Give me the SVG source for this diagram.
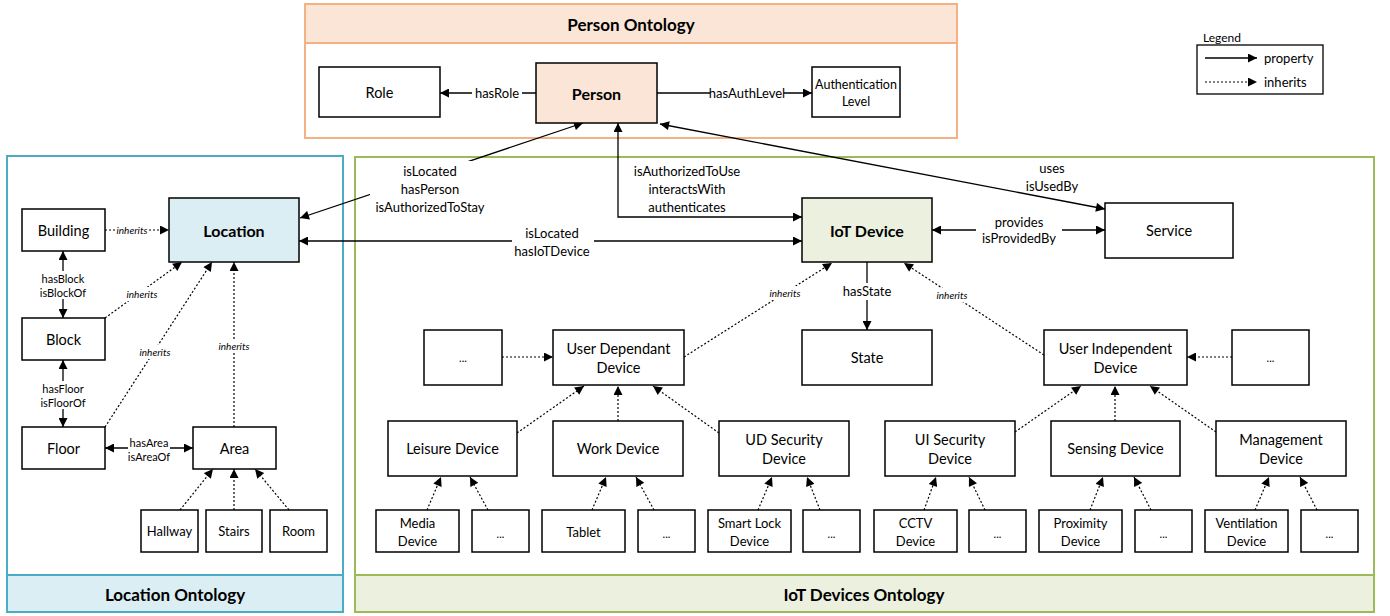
<svg xmlns="http://www.w3.org/2000/svg" width="1390" height="616" viewBox="0 0 1390 616">
<style>
text{font-family:Lato,"Liberation Sans",sans-serif;fill:#000;text-anchor:middle;dominant-baseline:central}
.n{fill:#fff;stroke:#000;stroke-width:1.5}
.t{font-size:14.5px}
.b{font-weight:bold;font-size:16px}
.h{font-weight:bold;font-size:17px}
.s{font-size:13px}
.xs{font-size:11px}
.i{font-style:italic;font-size:10px}
.p{fill:none;stroke:#000;stroke-width:1.3}
.d{fill:none;stroke:#000;stroke-width:1.2;stroke-dasharray:2 2}
.bg{fill:#fff}
</style>
<defs>
<marker id="a" viewBox="0 0 10 10" refX="10" refY="5" markerWidth="11" markerHeight="9" markerUnits="userSpaceOnUse" orient="auto-start-reverse"><path d="M0,0 L10,5 L0,10 z" fill="#000"/></marker>
</defs>
<rect width="1390" height="616" fill="#fff"/>
<g id="person-ontology">
<rect x="305" y="4" width="652" height="134" fill="#fff" stroke="#F4B183" stroke-width="2"/>
<rect x="305" y="4" width="652" height="39" fill="#FBE5D6" stroke="#F4B183" stroke-width="2"/>
<text x="631" y="24" class="h">Person Ontology</text>
</g>
<g id="location-ontology">
<rect x="7" y="156" width="336" height="456" fill="#fff" stroke="#4BACC6" stroke-width="2"/>
<rect x="7" y="575" width="336" height="37" fill="#DAEEF3" stroke="#4BACC6" stroke-width="2"/>
<text x="175" y="594" class="h">Location Ontology</text>
</g>
<g id="iot-ontology">
<rect x="355" y="157" width="1019" height="455" fill="#fff" stroke="#9BBB59" stroke-width="2"/>
<rect x="355" y="575" width="1019" height="37" fill="#EBF1DE" stroke="#9BBB59" stroke-width="2"/>
<text x="864" y="594" class="h">IoT Devices Ontology</text>
</g>
<g id="legend">
<text x="1203" y="37" style="text-anchor:start;font-size:12px">Legend</text>
<rect x="1197" y="45" width="126" height="49" fill="#fff" stroke="#000" stroke-width="1.3"/>
<line x1="1205" y1="58" x2="1257" y2="58" class="p" marker-end="url(#a)"/>
<text x="1264" y="58" class="s" style="text-anchor:start">property</text>
<line x1="1205" y1="82" x2="1257" y2="82" class="d" marker-end="url(#a)"/>
<text x="1264" y="82" class="s" style="text-anchor:start">inherits</text>
</g>
<g id="connectors">
<line x1="536" y1="93" x2="440" y2="93" class="p" marker-end="url(#a)"/>
<rect x="472" y="85" width="50" height="16" class="bg"/><text x="497" y="93" class="s">hasRole</text>
<line x1="657" y1="93" x2="812" y2="93" class="p" marker-end="url(#a)"/>
<rect x="710" y="85" width="74" height="16" class="bg"/><text x="747" y="93" class="s">hasAuthLevel</text>
<line x1="583" y1="123" x2="300" y2="218" class="p" marker-start="url(#a)" marker-end="url(#a)"/>
<rect x="370" y="161" width="120" height="56" class="bg"/>
<text x="430" y="171" class="s">isLocated</text><text x="430" y="189" class="s">hasPerson</text><text x="430" y="207" class="s">isAuthorizedToStay</text>
<path d="M618,123 V217 H802" class="p" marker-start="url(#a)" marker-end="url(#a)"/>
<text x="687" y="171" class="s">isAuthorizedToUse</text><text x="687" y="189" class="s">interactsWith</text><text x="687" y="207" class="s">authenticates</text>
<line x1="299" y1="241" x2="802" y2="241" class="p" marker-start="url(#a)" marker-end="url(#a)"/>
<rect x="512" y="225" width="82" height="34" class="bg"/>
<text x="552" y="233" class="s">isLocated</text><text x="552" y="251" class="s">hasIoTDevice</text>
<line x1="660" y1="124" x2="1105" y2="209" class="p" marker-start="url(#a)" marker-end="url(#a)"/>
<text x="1052" y="168" class="s">uses</text><text x="1052" y="186" class="s">isUsedBy</text>
<line x1="932" y1="230" x2="1105" y2="230" class="p" marker-start="url(#a)" marker-end="url(#a)"/>
<rect x="976" y="214" width="86" height="33" class="bg"/>
<text x="1019" y="222" class="s">provides</text><text x="1019" y="238" class="s">isProvidedBy</text>
<line x1="867" y1="262" x2="867" y2="330" class="p" marker-end="url(#a)"/>
<rect x="840" y="283" width="54" height="17" class="bg"/><text x="867" y="291" class="s">hasState</text>
<line x1="684" y1="357" x2="832" y2="263" class="d" marker-end="url(#a)"/>
<rect x="770" y="286" width="30" height="14" class="bg"/><text x="785" y="293" class="i">inherits</text>
<line x1="1044" y1="355" x2="904" y2="263" class="d" marker-end="url(#a)"/>
<rect x="937" y="288" width="30" height="14" class="bg"/><text x="952" y="295" class="i">inherits</text>
<line x1="502" y1="357" x2="553" y2="357" class="d" marker-end="url(#a)"/>
<line x1="1232" y1="357" x2="1187" y2="357" class="d" marker-end="url(#a)"/>
<line x1="517" y1="433" x2="584" y2="386" class="d" marker-end="url(#a)"/>
<line x1="618" y1="421" x2="618" y2="386" class="d" marker-end="url(#a)"/>
<line x1="719" y1="433" x2="653" y2="386" class="d" marker-end="url(#a)"/>
<line x1="1015" y1="432" x2="1081" y2="386" class="d" marker-end="url(#a)"/>
<line x1="1115" y1="421" x2="1115" y2="386" class="d" marker-end="url(#a)"/>
<line x1="1216" y1="432" x2="1150" y2="386" class="d" marker-end="url(#a)"/>
<line x1="427" y1="510" x2="441" y2="477" class="d" marker-end="url(#a)"/>
<line x1="488" y1="510" x2="470" y2="477" class="d" marker-end="url(#a)"/>
<line x1="592" y1="510" x2="606" y2="477" class="d" marker-end="url(#a)"/>
<line x1="654" y1="510" x2="636" y2="477" class="d" marker-end="url(#a)"/>
<line x1="758" y1="510" x2="772" y2="477" class="d" marker-end="url(#a)"/>
<line x1="820" y1="510" x2="807" y2="477" class="d" marker-end="url(#a)"/>
<line x1="924" y1="510" x2="936" y2="477" class="d" marker-end="url(#a)"/>
<line x1="985" y1="510" x2="969" y2="477" class="d" marker-end="url(#a)"/>
<line x1="1090" y1="510" x2="1103" y2="477" class="d" marker-end="url(#a)"/>
<line x1="1151" y1="510" x2="1134" y2="477" class="d" marker-end="url(#a)"/>
<line x1="1255" y1="510" x2="1269" y2="477" class="d" marker-end="url(#a)"/>
<line x1="1317" y1="510" x2="1300" y2="477" class="d" marker-end="url(#a)"/>
<line x1="105" y1="230" x2="169" y2="230" class="d" marker-end="url(#a)"/>
<rect x="117" y="223" width="31" height="14" class="bg"/><text x="132" y="230" class="i">inherits</text>
<line x1="63" y1="251" x2="63" y2="318" class="p" marker-start="url(#a)" marker-end="url(#a)"/>
<rect x="40" y="271" width="46" height="28" class="bg"/>
<text x="63" y="278" class="xs">hasBlock</text><text x="63" y="292" class="xs">isBlockOf</text>
<line x1="63" y1="360" x2="63" y2="427" class="p" marker-start="url(#a)" marker-end="url(#a)"/>
<rect x="40" y="381" width="46" height="28" class="bg"/>
<text x="63" y="388" class="xs">hasFloor</text><text x="63" y="402" class="xs">isFloorOf</text>
<line x1="105" y1="318" x2="182" y2="262" class="d" marker-end="url(#a)"/>
<rect x="127" y="287" width="31" height="14" class="bg"/><text x="142" y="294" class="i">inherits</text>
<line x1="105" y1="427" x2="212" y2="262" class="d" marker-end="url(#a)"/>
<rect x="140" y="345" width="31" height="14" class="bg"/><text x="155" y="352" class="i">inherits</text>
<line x1="234" y1="427" x2="234" y2="262" class="d" marker-end="url(#a)"/>
<rect x="219" y="339" width="31" height="14" class="bg"/><text x="234" y="346" class="i">inherits</text>
<line x1="105" y1="448" x2="193" y2="448" class="p" marker-start="url(#a)" marker-end="url(#a)"/>
<rect x="128" y="435" width="42" height="28" class="bg"/>
<text x="149" y="442" class="xs">hasArea</text><text x="149" y="456" class="xs">isAreaOf</text>
<line x1="180" y1="510" x2="213" y2="469" class="d" marker-end="url(#a)"/>
<line x1="234" y1="510" x2="234" y2="469" class="d" marker-end="url(#a)"/>
<line x1="289" y1="510" x2="255" y2="469" class="d" marker-end="url(#a)"/>
</g>
<g id="role"><rect x="319" y="67" width="121" height="50" class="n"/><text x="379.5" y="92" class="t">Role</text></g>
<g id="person"><rect x="536" y="63" width="121" height="60" class="n" style="fill:#FBE5D6"/><text x="596.5" y="93" class="b">Person</text></g>
<g id="auth-level"><rect x="812" y="67" width="88" height="50" class="n"/><text x="856" y="84" style="font-size:12.5px">Authentication</text><text x="856" y="101" style="font-size:12.5px">Level</text></g>
<g id="location"><rect x="169" y="198" width="130" height="64" class="n" style="fill:#DAEEF3"/><text x="234" y="230" class="b">Location</text></g>
<g id="building"><rect x="22" y="209" width="83" height="42" class="n"/><text x="63.5" y="230" class="t">Building</text></g>
<g id="block"><rect x="22" y="318" width="83" height="42" class="n"/><text x="63.5" y="339" class="t">Block</text></g>
<g id="floor"><rect x="22" y="427" width="83" height="42" class="n"/><text x="63.5" y="448" class="t">Floor</text></g>
<g id="area"><rect x="193" y="427" width="83" height="42" class="n"/><text x="234.5" y="448" class="t">Area</text></g>
<g id="hallway"><rect x="141" y="510" width="57" height="42" class="n"/><text x="169.5" y="531" class="s">Hallway</text></g>
<g id="stairs"><rect x="206" y="510" width="56" height="42" class="n"/><text x="234" y="531" class="s">Stairs</text></g>
<g id="room"><rect x="270" y="510" width="57" height="42" class="n"/><text x="298.5" y="531" class="s">Room</text></g>
<g id="iot-device"><rect x="802" y="198" width="130" height="64" class="n" style="fill:#EBF1DE"/><text x="867" y="230" class="b">IoT Device</text></g>
<g id="service"><rect x="1105" y="203" width="128" height="55" class="n"/><text x="1169" y="230" class="t">Service</text></g>
<g id="state"><rect x="802" y="330" width="130" height="55" class="n"/><text x="867" y="357" class="t">State</text></g>
<g id="ud-device"><rect x="553" y="330" width="131" height="55" class="n"/><text x="618.5" y="348" class="t">User Dependant</text><text x="618.5" y="367" class="t">Device</text></g>
<g id="ui-device"><rect x="1044" y="330" width="143" height="55" class="n"/><text x="1115.5" y="348" class="t">User Independent</text><text x="1115.5" y="367" class="t">Device</text></g>
<g id="ud-more"><rect x="424" y="330" width="78" height="55" class="n"/><text x="463" y="357" class="xs">...</text></g>
<g id="ui-more"><rect x="1232" y="330" width="77" height="55" class="n"/><text x="1270.5" y="357" class="xs">...</text></g>
<g id="leisure"><rect x="388" y="421" width="129" height="55" class="n"/><text x="452.5" y="448" class="t">Leisure Device</text></g>
<g id="work"><rect x="553" y="421" width="130" height="55" class="n"/><text x="618" y="448" class="t">Work Device</text></g>
<g id="ud-security"><rect x="719" y="421" width="130" height="55" class="n"/><text x="784" y="439" class="t">UD Security</text><text x="784" y="458" class="t">Device</text></g>
<g id="ui-security"><rect x="885" y="421" width="130" height="55" class="n"/><text x="950" y="439" class="t">UI Security</text><text x="950" y="458" class="t">Device</text></g>
<g id="sensing"><rect x="1051" y="421" width="129" height="55" class="n"/><text x="1115.5" y="448" class="t">Sensing Device</text></g>
<g id="management"><rect x="1216" y="421" width="130" height="55" class="n"/><text x="1281" y="439" class="t">Management</text><text x="1281" y="458" class="t">Device</text></g>
<g id="media"><rect x="376" y="510" width="83" height="42" class="n"/><text x="417.5" y="523" class="s">Media</text><text x="417.5" y="541" class="s">Device</text></g>
<g id="leisure-more"><rect x="472" y="510" width="57" height="42" class="n"/><text x="500.5" y="533" class="xs">...</text></g>
<g id="tablet"><rect x="542" y="510" width="83" height="42" class="n"/><text x="583.5" y="532" class="s">Tablet</text></g>
<g id="work-more"><rect x="638" y="510" width="57" height="42" class="n"/><text x="666.5" y="533" class="xs">...</text></g>
<g id="smart-lock"><rect x="708" y="510" width="83" height="42" class="n"/><text x="749.5" y="523" class="s">Smart Lock</text><text x="749.5" y="541" class="s">Device</text></g>
<g id="udsec-more"><rect x="803" y="510" width="57" height="42" class="n"/><text x="831.5" y="533" class="xs">...</text></g>
<g id="cctv"><rect x="874" y="510" width="83" height="42" class="n"/><text x="915.5" y="523" class="s">CCTV</text><text x="915.5" y="541" class="s">Device</text></g>
<g id="uisec-more"><rect x="969" y="510" width="57" height="42" class="n"/><text x="997.5" y="533" class="xs">...</text></g>
<g id="proximity"><rect x="1039" y="510" width="83" height="42" class="n"/><text x="1080.5" y="523" class="s">Proximity</text><text x="1080.5" y="541" class="s">Device</text></g>
<g id="sensing-more"><rect x="1135" y="510" width="57" height="42" class="n"/><text x="1163.5" y="533" class="xs">...</text></g>
<g id="ventilation"><rect x="1205" y="510" width="83" height="42" class="n"/><text x="1246.5" y="523" class="s">Ventilation</text><text x="1246.5" y="541" class="s">Device</text></g>
<g id="mgmt-more"><rect x="1301" y="510" width="57" height="42" class="n"/><text x="1329.5" y="533" class="xs">...</text></g>
</svg>
